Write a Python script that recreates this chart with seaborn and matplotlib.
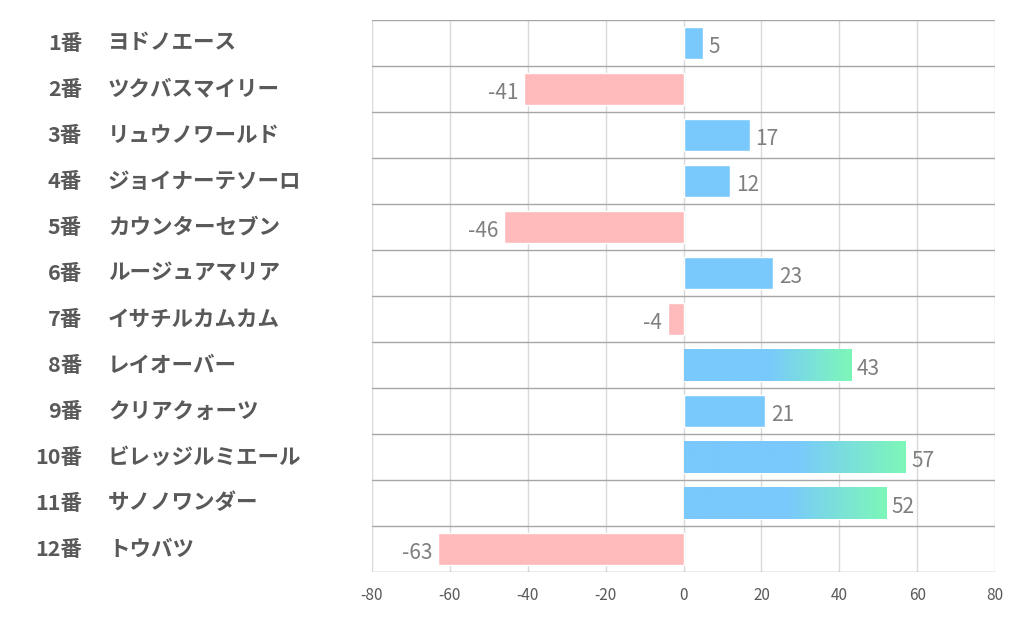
import numpy as np
import pandas as pd
import matplotlib
matplotlib.use("Agg")
import matplotlib.pyplot as plt
import matplotlib.transforms as mtransforms
from matplotlib.colors import LinearSegmentedColormap
import seaborn as sns

numbers = ["1番", "2番", "3番", "4番", "5番", "6番", "7番", "8番", "9番", "10番", "11番", "12番"]
names = ["ヨドノエース", "ツクバスマイリー", "リュウノワールド", "ジョイナーテソーロ", "カウンターセブン",
         "ルージュアマリア", "イサチルカムカム", "レイオーバー", "クリアクォーツ", "ビレッジルミエール",
         "サノノワンダー", "トウバツ"]
values = [5, -41, 17, 12, -46, 23, -4, 43, 21, 57, 52, -63]
xticks = [-80, -60, -40, -20, 0, 20, 40, 60, 80]

BLUE = "#79C9FD"
GREEN = "#7DF7B8"
PINK = "#FFBBBB"

sns.set_theme(style="white")
plt.rcParams["font.family"] = ["Noto Sans CJK JP", "DejaVu Sans"]

df = pd.DataFrame({"label": [f"{n} {m}" for n, m in zip(numbers, names)],
                   "value": values,
                   "sign": ["pos" if v >= 0 else "neg" for v in values]})

fig = plt.figure(figsize=(10.22, 6.26), dpi=100)
ax = fig.add_axes([372 / 1022, (626 - 572) / 626, (995 - 372) / 1022, (572 - 20) / 626])

sns.barplot(data=df, x="value", y="label", hue="sign", palette={"pos": BLUE, "neg": PINK},
            dodge=False, legend=False, width=0.68, orient="h", ax=ax, zorder=3, saturation=1)

ax.set_xlim(-80, 80)
ax.set_ylim(len(values) - 0.5, -0.5)
ax.set_xticks(xticks)
ax.set_xticklabels([str(t) for t in xticks], color="#595959", fontsize=11)
ax.tick_params(axis="x", length=0, pad=11)
ax.set_yticks([])
ax.set_xlabel("")
ax.set_ylabel("")

# grid lines
for t in xticks:
    ax.axvline(t, color="#D9D9D9", lw=1, zorder=1)
for i in range(len(values) + 1):
    ax.axhline(i - 0.5, color="#A6A6A6", lw=1, zorder=2)
for s in ax.spines.values():
    s.set_visible(False)

# gradient overlay for top bars
cmap = LinearSegmentedColormap.from_list("g", [(0, BLUE), (0.5, BLUE), (1, GREEN)])
grad = np.linspace(0, 1, 256).reshape(1, -1)
for patch in ax.patches:
    w = patch.get_width()
    if w > 40:
        x0, y0 = patch.get_x(), patch.get_y()
        h = patch.get_height()
        im = ax.imshow(grad, cmap=cmap, aspect="auto", extent=(x0, x0 + w, y0 + h, y0),
                       zorder=4, interpolation="bilinear")
        im.set_clip_path(patch)
ax.set_xlim(-80, 80)
ax.set_ylim(len(values) - 0.5, -0.5)

# data labels
for i, v in enumerate(values):
    if v >= 0:
        ax.text(v + 1.5, i + 0.08, str(v), ha="left", va="center", fontsize=15, color="#7F7F7F", zorder=5)
    else:
        ax.text(v - 1.5, i + 0.08, str(v), ha="right", va="center", fontsize=15, color="#7F7F7F", zorder=5)

# category labels
trans = mtransforms.blended_transform_factory(fig.transFigure, ax.transData)
for i, (n, m) in enumerate(zip(numbers, names)):
    ax.text(82 / 1022, i + 0.0, n, transform=trans, ha="right", va="center",
            fontsize=15.5, fontweight="bold", color="#595959")
    ax.text(108 / 1022, i + 0.0, m, transform=trans, ha="left", va="center",
            fontsize=15.5, fontweight="bold", color="#595959")

fig.savefig("out.png", dpi=100)
